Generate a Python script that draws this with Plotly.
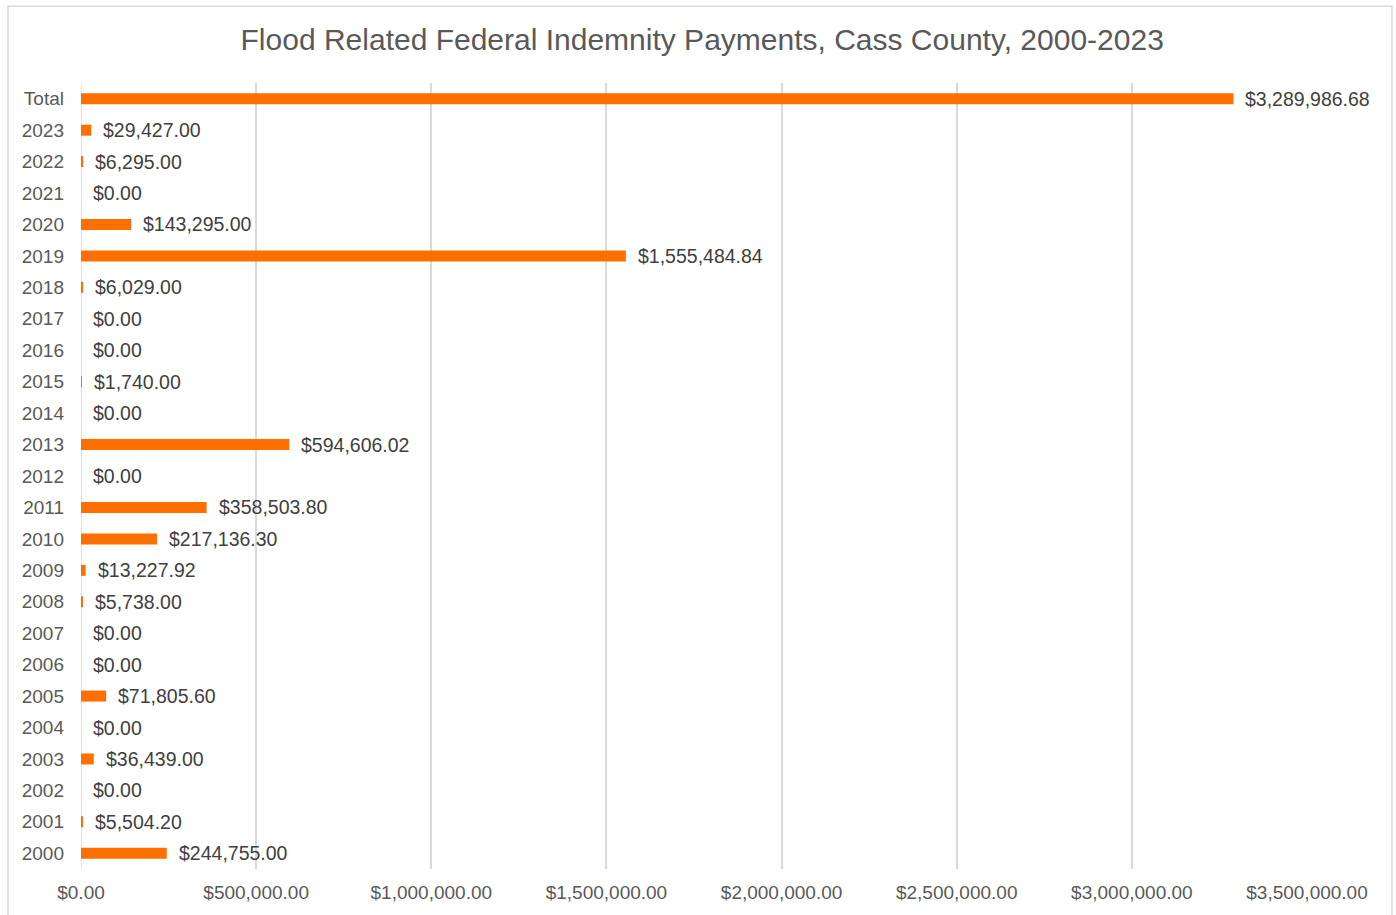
import plotly.graph_objects as go

# Flood related federal indemnity payments, Cass County (USD)
categories = ["2000", "2001", "2002", "2003", "2004", "2005", "2006", "2007",
              "2008", "2009", "2010", "2011", "2012", "2013", "2014", "2015",
              "2016", "2017", "2018", "2019", "2020", "2021", "2022", "2023",
              "Total"]
payments = [244755.00, 5504.20, 0.00, 36439.00, 0.00, 71805.60, 0.00, 0.00,
            5738.00, 13227.92, 217136.30, 358503.80, 0.00, 594606.02, 0.00,
            1740.00, 0.00, 0.00, 6029.00, 1555484.84, 143295.00, 0.00,
            6295.00, 29427.00, 3289986.68]
x_ticks = [0, 500000, 1000000, 1500000, 2000000, 2500000, 3000000, 3500000]
x_tick_labels = ["$0.00", "$500,000.00", "$1,000,000.00", "$1,500,000.00",
                 "$2,000,000.00", "$2,500,000.00", "$3,000,000.00",
                 "$3,500,000.00"]

W, H = 1396, 915
ML, MR, MT, MB = 81, 89, 83, 43
plot_w = W - ML - MR
plot_h = H - MT - MB

FONT = "Liberation Sans, Arial, sans-serif"
GRID = "#D9D9D9"
TEXT = "#595959"
BAR = "#FF6F00"


def money(v):
    return "${:,.2f}".format(v)


fig = go.Figure()
fig.add_trace(go.Bar(
    x=payments,
    y=categories,
    orientation="h",
    marker=dict(color=BAR, line=dict(width=0)),
    hoverinfo="skip",
))

# value labels just past the end of each bar (y given as category index)
for idx, val in enumerate(payments):
    fig.add_annotation(
        x=val, y=idx, xref="x", yref="y",
        text=money(val), showarrow=False,
        xanchor="left", yanchor="middle", xshift=10,
        font=dict(family=FONT, size=19.5, color="#404040"),
    )

# outer chart frame
fig.add_shape(
    type="rect", xref="paper", yref="paper",
    x0=(8 - ML) / plot_w, x1=(1392 - ML) / plot_w,
    y0=(H - MB - 925) / plot_h, y1=(H - MB - 6) / plot_h,
    line=dict(color=GRID, width=1.5), fillcolor="rgba(0,0,0,0)",
    layer="below",
)

fig.update_layout(
    width=W, height=H,
    margin=dict(l=ML, r=MR, t=MT, b=MB, pad=0),
    paper_bgcolor="white", plot_bgcolor="white",
    bargap=0.65,
    showlegend=False,
    title=dict(
        text="Flood Related Federal Indemnity Payments, Cass County, 2000-2023",
        x=0.503, xref="container", xanchor="center",
        y=1 - 39 / H, yref="container", yanchor="middle",
        font=dict(family=FONT, size=30, color=TEXT),
    ),
    xaxis=dict(
        range=[0, 3500000],
        tickmode="array", tickvals=x_ticks, ticktext=x_tick_labels,
        showgrid=True, gridcolor=GRID, gridwidth=1.5,
        zeroline=False, showline=False, ticks="",
        ticklabelstandoff=10,
        tickfont=dict(family=FONT, size=19, color=TEXT),
        fixedrange=True,
    ),
    yaxis=dict(
        type="category",
        categoryorder="array", categoryarray=categories,
        range=[-0.5, len(categories) - 0.5],
        autorange=False,
        showgrid=False, zeroline=False,
        showline=False, ticks="",
        ticklabelstandoff=16,
        tickfont=dict(family=FONT, size=19, color=TEXT),
        fixedrange=True,
    ),
)

# vertical axis line at zero
fig.add_shape(
    type="line", xref="x", yref="paper", x0=0, x1=0, y0=0, y1=1,
    line=dict(color=GRID, width=1.5), layer="below",
)

fig.write_html("out.html", config={"displayModeBar": False})
